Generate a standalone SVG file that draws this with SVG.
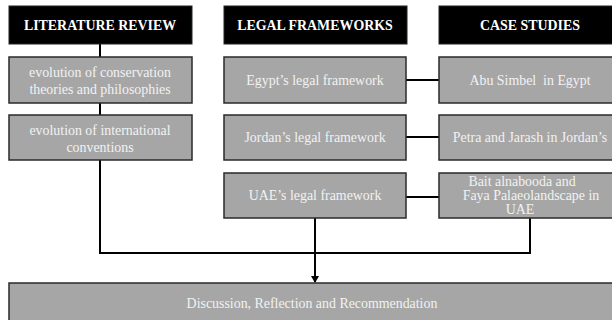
<svg xmlns="http://www.w3.org/2000/svg" width="612" height="320" viewBox="0 0 612 320">
<defs>
<style>
.hdr{fill:#000;stroke:#222;stroke-width:1}
.box{fill:#a6a6a6;stroke:#2a2a2a;stroke-width:1.5}
.ht{font-family:"Liberation Serif",serif;font-weight:bold;font-size:13.9px;fill:#fff;text-anchor:middle}
.bt{font-family:"Liberation Serif",serif;font-size:13.9px;fill:#f2f2f2;text-anchor:middle}
.ln{fill:none;stroke:#000;stroke-width:2}
</style>
<marker id="arr" markerWidth="8" markerHeight="8" refX="6" refY="4" orient="auto" markerUnits="userSpaceOnUse">
<path d="M0,0 L7,4 L0,8 Z" fill="#000"/>
</marker>
</defs>
<rect width="612" height="320" fill="#fff"/>
<g id="connectors">
<line class="ln" x1="100" y1="44" x2="100" y2="57"/>
<line class="ln" x1="100" y1="103" x2="100" y2="115"/>
<polyline class="ln" points="100,160 100,253 530,253 530,218"/>
<line class="ln" x1="406" y1="80" x2="439" y2="80"/>
<line class="ln" x1="406" y1="137" x2="439" y2="137"/>
<line class="ln" x1="406" y1="197" x2="439" y2="197"/>
<line class="ln" x1="315" y1="218" x2="315" y2="282" marker-end="url(#arr)"/>
</g>
<g id="lit-review"><rect class="hdr" x="9" y="6" width="183" height="38"/><text class="ht" x="100" y="30">LITERATURE REVIEW</text></g>
<g id="legal"><rect class="hdr" x="224" y="6" width="183" height="38"/><text class="ht" x="315" y="30">LEGAL FRAMEWORKS</text></g>
<g id="case"><rect class="hdr" x="439" y="6" width="183" height="38"/><text class="ht" x="530" y="30">CASE STUDIES</text></g>
<g id="evo-cons"><rect class="box" x="9" y="57" width="183" height="46"/><text class="bt" x="100" y="77">evolution of conservation</text><text class="bt" x="100" y="94">theories and philosophies</text></g>
<g id="evo-intl"><rect class="box" x="9" y="115" width="183" height="45"/><text class="bt" x="100" y="135">evolution of international</text><text class="bt" x="100" y="152">conventions</text></g>
<g id="egypt-legal"><rect class="box" x="224" y="57" width="182" height="46"/><text class="bt" x="315" y="85">Egypt’s legal framework</text></g>
<g id="jordan-legal"><rect class="box" x="224" y="115" width="182" height="45"/><text class="bt" x="315" y="142">Jordan’s legal framework</text></g>
<g id="uae-legal"><rect class="box" x="224" y="173" width="182" height="45"/><text class="bt" x="315" y="200">UAE’s legal framework</text></g>
<g id="abu"><rect class="box" x="439" y="57" width="183" height="46"/><text class="bt" x="530" y="85" xml:space="preserve">Abu Simbel  in Egypt</text></g>
<g id="petra"><rect class="box" x="439" y="115" width="183" height="45"/><text class="bt" x="530" y="142">Petra and Jarash in Jordan’s</text></g>
<g id="bait"><rect class="box" x="439" y="173" width="183" height="45"/><text class="bt" x="522" y="186">Bait alnabooda and</text><text class="bt" x="531" y="200">Faya Palaeolandscape in</text><text class="bt" x="520" y="214">UAE</text></g>
<g id="discussion"><rect class="box" x="9" y="283" width="610" height="45"/><text class="bt" x="312" y="308">Discussion, Reflection and Recommendation</text></g>
</svg>
